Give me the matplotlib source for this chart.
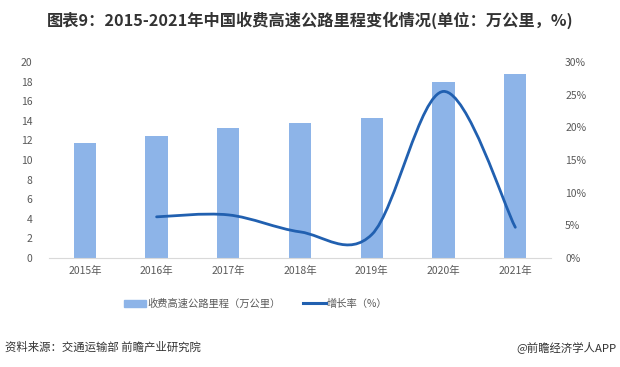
import numpy as np
import matplotlib
matplotlib.use("Agg")
import matplotlib.pyplot as plt
from matplotlib.path import Path
from matplotlib.patches import PathPatch
from matplotlib.lines import Line2D
from matplotlib.patches import Patch

plt.rcParams['font.family'] = ['Noto Sans CJK SC', 'DejaVu Sans']

years = ["2015年", "2016年", "2017年", "2018年", "2019年", "2020年", "2021年"]
mileage = [11.7, 12.45, 13.27, 13.8, 14.3, 17.95, 18.8]
growth_years = [1, 2, 3, 4, 5, 6]
growth = [6.3, 6.6, 4.0, 3.6, 25.5, 4.7]

bar_color = "#8DB4E8"
line_color = "#2160B0"
tick_color = "#595959"

fig = plt.figure(figsize=(6.2, 3.67), dpi=100)
ax = fig.add_axes([0.079, 0.297, 0.81, 0.534])
ax2 = ax.twinx()

x = np.arange(len(years))
ax.bar(x, mileage, width=0.31, color=bar_color, zorder=2)
ax.set_xlim(-0.5, len(years) - 0.5)
ax.set_ylim(0, 20)
ax.set_yticks(range(0, 21, 2))
ax.set_xticks(x)
ax.set_xticklabels(years)

ax2.set_ylim(0, 30)
ax2.set_yticks(range(0, 31, 5))
ax2.set_yticklabels([f"{v}%" for v in range(0, 31, 5)])

# smoothed line (Catmull-Rom style bezier, like Excel)
px = np.array(growth_years, dtype=float)
py = np.array(growth, dtype=float)
verts = [(px[0], py[0])]
codes = [Path.MOVETO]
n = len(px)
for i in range(n - 1):
    p0 = (px[i - 1], py[i - 1]) if i > 0 else (px[i], py[i])
    p1 = (px[i], py[i])
    p2 = (px[i + 1], py[i + 1])
    p3 = (px[i + 2], py[i + 2]) if i + 2 < n else (px[i + 1], py[i + 1])
    c1 = (p1[0] + (p2[0] - p0[0]) / 6, p1[1] + (p2[1] - p0[1]) / 6)
    c2 = (p2[0] - (p3[0] - p1[0]) / 6, p2[1] - (p3[1] - p1[1]) / 6)
    verts += [c1, c2, p2]
    codes += [Path.CURVE4] * 3
ax2.add_patch(PathPatch(Path(verts, codes), facecolor="none", edgecolor=line_color,
                        lw=2.0, capstyle="round", zorder=3))

for a in (ax, ax2):
    for s in a.spines.values():
        s.set_visible(False)
    a.tick_params(length=0, colors=tick_color, labelsize=7.5)
ax.spines["bottom"].set_visible(True)
ax.spines["bottom"].set_color("#D9D9D9")
ax.tick_params(axis="x", pad=6)
ax.tick_params(axis="y", pad=12)
ax2.tick_params(axis="y", pad=10)

fig.text(0.5, 0.945, "图表9：2015-2021年中国收费高速公路里程变化情况(单位：万公里，%)",
         ha="center", va="center", fontsize=11.7, fontweight="bold", color="#333333")

handles = [Patch(color=bar_color), Line2D([0], [0], color=line_color, lw=2.2)]
fig.legend(handles, ["收费高速公路里程（万公里）", "增长率（%）"], loc="center",
           bbox_to_anchor=(0.412, 0.172), ncol=2, frameon=False, fontsize=7.4,
           handlelength=2.2, handletextpad=0.1, columnspacing=2.2,
           labelcolor=tick_color)

fig.text(0.008, 0.055, "资料来源：交通运输部 前瞻产业研究院", ha="left", va="center",
         fontsize=8.2, color="#333333")
fig.text(0.995, 0.055, "@前瞻经济学人APP", ha="right", va="center",
         fontsize=8.2, color="#333333")

fig.savefig("out.png", dpi=100)
